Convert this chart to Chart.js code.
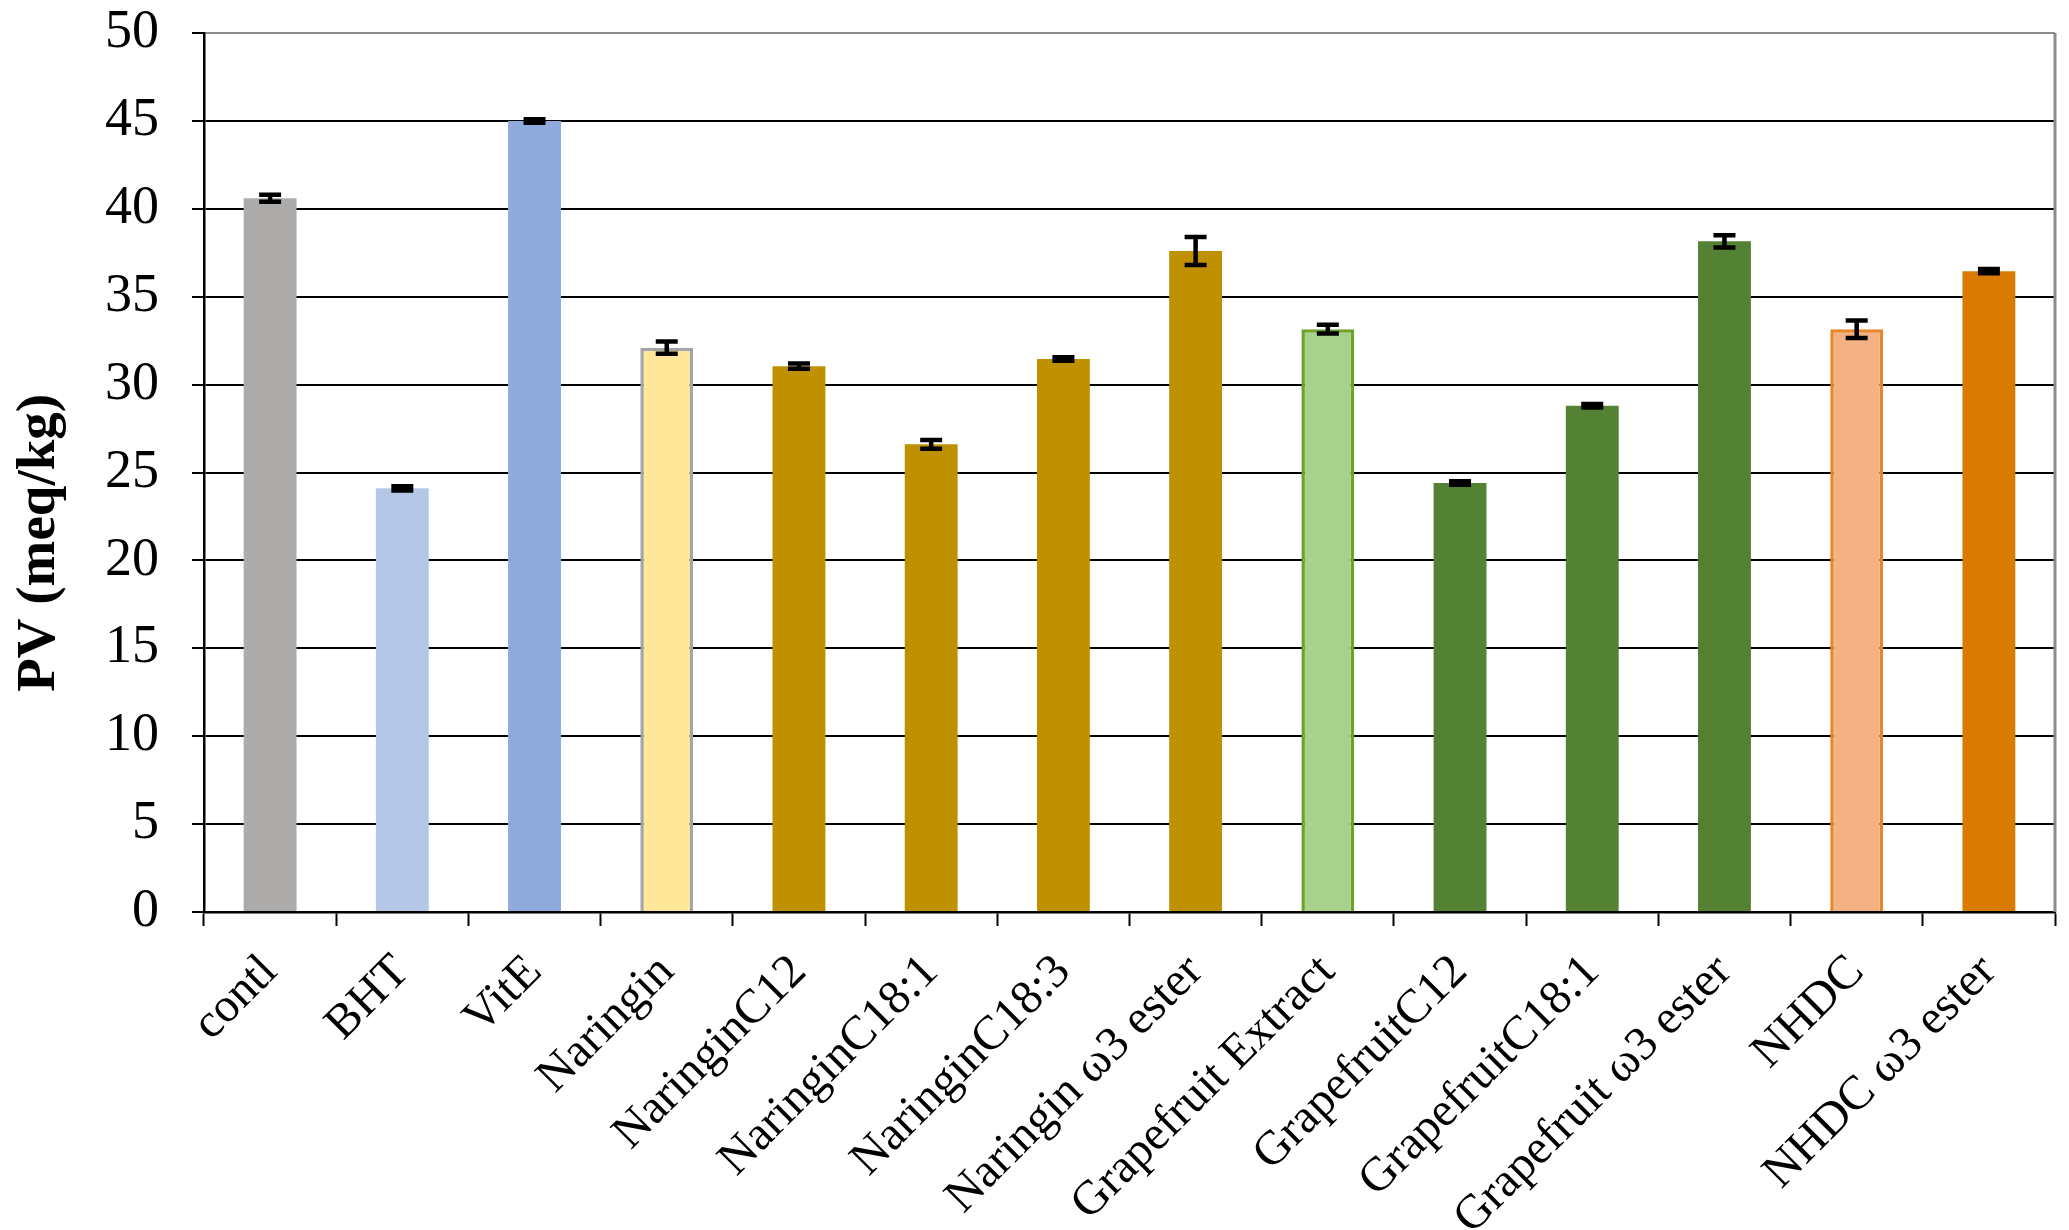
<!DOCTYPE html>
<html>
<head>
<meta charset="utf-8">
<script src="https://cdn.jsdelivr.net/npm/chart.js@4.4.1/dist/chart.umd.min.js"></script>
<style>
  html, body { margin: 0; padding: 0; background: #fff; }
  #wrap { width: 2069px; height: 1230px; position: relative; }
</style>
</head>
<body>
<div id="wrap"><canvas id="pvChart"></canvas></div>
<script>
// Categories along the x axis
const categories = [
  'contl', 'BHT', 'VitE', 'Naringin', 'NaringinC12', 'NaringinC18:1',
  'NaringinC18:3', 'Naringin \u03c93 ester', 'Grapefruit Extract',
  'GrapefruitC12', 'GrapefruitC18:1', 'Grapefruit \u03c93 ester',
  'NHDC', 'NHDC \u03c93 ester'
];
// PV (meq/kg) per treatment, and the +/- error bar size
const pvValues = [40.6, 24.1, 45.0, 32.1, 31.05, 26.6, 31.45, 37.6, 33.15, 24.4, 28.8, 38.15, 33.15, 36.45];
const pvErrors = [0.2, 0.12, 0.1, 0.35, 0.15, 0.25, 0.1, 0.8, 0.25, 0.1, 0.1, 0.35, 0.5, 0.12];
// y axis tick values
const yTicks = [0, 5, 10, 15, 20, 25, 30, 35, 40, 45, 50];
const yTitle = 'PV (meq/kg)';

// bar colours (fill / outline)
const fillColors = [
  '#ADAAAA', '#B4C7E7', '#8FAADC', '#FFE699', '#BF9000', '#BF9000', '#BF9000',
  '#BF9000', '#A9D18E', '#548235', '#548235', '#548235', '#F4B183', '#D97B00'
];
const edgeColors = [
  '#ADAAAA', '#B4C7E7', '#8FAADC', '#A5A5A5', '#BF9000', '#BF9000', '#BF9000',
  '#BF9000', '#6FA22A', '#548235', '#548235', '#548235', '#E8872A', '#D97B00'
];
const edgeWidths = [0, 0, 0, 3.5, 0, 0, 0, 0, 3.5, 0, 0, 0, 3.5, 0];

const serif = '"Liberation Serif", "Times New Roman", serif';

// error bars, grey right border and the y axis title
const errorBarPlugin = {
  id: 'errorBars',
  afterDatasetsDraw(chart) {
    const ctx = chart.ctx;
    const yScale = chart.scales.y;
    const meta = chart.getDatasetMeta(0);
    ctx.save();
    ctx.strokeStyle = '#000';
    ctx.lineWidth = 4.5;
    meta.data.forEach((bar, i) => {
      const x = bar.x;
      const yTop = yScale.getPixelForValue(pvValues[i] + pvErrors[i]);
      const yBot = yScale.getPixelForValue(pvValues[i] - pvErrors[i]);
      const cap = 11;
      ctx.beginPath();
      ctx.moveTo(x, yTop); ctx.lineTo(x, yBot);
      ctx.moveTo(x - cap, yTop); ctx.lineTo(x + cap, yTop);
      ctx.moveTo(x - cap, yBot); ctx.lineTo(x + cap, yBot);
      ctx.stroke();
    });
    // right border of plot area
    const area = chart.chartArea;
    ctx.strokeStyle = '#8C8C8C';
    ctx.lineWidth = 3;
    ctx.beginPath();
    ctx.moveTo(area.right, area.top);
    ctx.lineTo(area.right, area.bottom);
    ctx.stroke();

    // y axis title, sits a bit below the middle of the axis
    ctx.translate(40, yScale.getPixelForValue(21));
    ctx.rotate(-Math.PI / 2);
    ctx.fillStyle = '#000';
    ctx.font = 'bold 55px ' + serif;
    ctx.textAlign = 'center';
    ctx.textBaseline = 'middle';
    ctx.fillText(yTitle, 0, 0);
    ctx.restore();
  }
};

const ctx = document.getElementById('pvChart').getContext('2d');
const pvChart = new Chart(ctx, {
  type: 'bar',
  data: {
    labels: categories,
    datasets: [{
      label: 'PV',
      data: pvValues,
      backgroundColor: fillColors,
      borderColor: edgeColors,
      borderWidth: edgeWidths,
      barPercentage: 0.4,
      categoryPercentage: 1.0
    }]
  },
  options: {
    responsive: true,
    maintainAspectRatio: false,
    animation: false,
    devicePixelRatio: 1,
    layout: { padding: { top: 33, right: 14, left: 0, bottom: 0 } },
    plugins: {
      legend: { display: false },
      tooltip: { enabled: false }
    },
    scales: {
      x: {
        offset: true,
        grid: {
          display: true,
          drawOnChartArea: false,
          drawTicks: true,
          tickLength: 14,
          tickWidth: 2,
          tickColor: '#000',
          offset: true
        },
        border: { color: '#000', width: 2.5 },
        ticks: {
          minRotation: 45,
          maxRotation: 45,
          autoSkip: false,
          padding: 18,
          color: '#000',
          font: { family: serif, size: 48 }
        },
        afterFit(scale) { scale.height = 318; }
      },
      y: {
        min: 0,
        max: 50,
        afterBuildTicks(scale) { scale.ticks = yTicks.map(v => ({ value: v })); },
        grid: {
          color: c => (c.tick && c.tick.value === 50) ? '#8C8C8C' : '#000',
          lineWidth: 2,
          drawTicks: true,
          tickLength: 12,
          tickColor: '#000'
        },
        border: { color: '#000', width: 2.5 },
        ticks: {
          padding: 33,
          color: '#000',
          font: { family: serif, size: 54 }
        },
        title: { display: false },
        afterFit(scale) {
          scale.width = 204;
          scale.paddingTop = 0;
          scale.paddingBottom = 0;
        }
      }
    }
  },
  plugins: [errorBarPlugin]
});
</script>
</body>
</html>
